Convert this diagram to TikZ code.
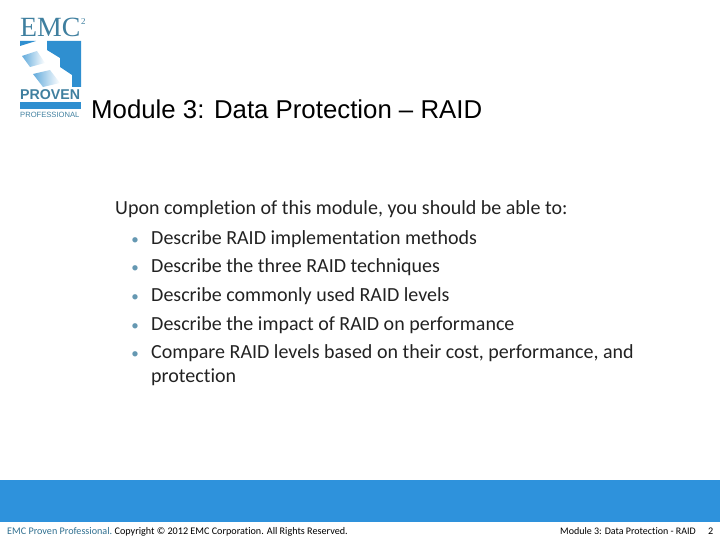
\documentclass[tikz,border=0pt]{standalone}
\usepackage{fontspec}
\setmainfont[Ligatures=NoCommon]{Carlito}
\newfontfamily\arialfont{Liberation Sans}
\newfontfamily\logofont{Liberation Serif}
\usetikzlibrary{positioning}
\definecolor{bandblue}{HTML}{2E92DC}
\definecolor{logoblue}{HTML}{2F8FD0}
\definecolor{logoteal}{HTML}{3F7F9F}
\definecolor{footteal}{HTML}{2F6F8F}
\definecolor{bodyblack}{HTML}{222222}
\tikzset{
    textline/.style={inner sep=0pt,anchor=base west,text=bodyblack,font=\fontsize{20}{24}\selectfont},
    bulletline/.style={inner sep=0pt,anchor=base,text=logoteal!80,font=\fontsize{15}{18}\selectfont},
    footline/.style={inner sep=0pt,anchor=base west,font=\fontsize{10.15}{12}\selectfont}
}
\begin{document}
\begin{tikzpicture}[x=1pt,y=-1pt]
    \useasboundingbox (0,0) rectangle (720,540);

    % logo
    \node[inner sep=0pt,anchor=base west,text=logoteal,font=\logofont\fontsize{27.8}{28}\selectfont] (emc) at (20,37) {EMC};
    \node[inner sep=0pt,anchor=base west,text=logoteal,font=\logofont\fontsize{9}{9}\selectfont] (two) at (81,25) {2};
    \fill[logoblue] (47,41) -- (81,41) -- (81,87) -- (72,87) -- (72,75) -- (60,67) -- (60,58) -- (47,50) -- cycle;
    \fill[logoblue] (20,41) -- (36,41) -- (20,46) -- cycle;
    \shade[left color=logoblue!75,right color=white] (22,56) -- (37,51) -- (45,63) -- (30,67) -- cycle;
    \shade[left color=logoblue!75,right color=white] (33,74) -- (50,70) -- (60,83) -- (43,87) -- cycle;
    \node[inner sep=0pt,anchor=base west,text=logoteal,font=\arialfont\bfseries\fontsize{14.2}{15}\selectfont] (proven) at (20,100) {PROVEN};
    \fill[logoblue] (20,102) rectangle (81,109);
    \node[inner sep=0pt,anchor=base west,text=logoteal,font=\arialfont\fontsize{7.6}{8}\selectfont] (prof) at (20,118) {PROFESSIONAL};

    % title
    \node[inner sep=0pt,anchor=base west,font=\arialfont\fontsize{25.8}{30}\selectfont] (title) at (91,119) {Module 3: Data Protection – RAID};

    % body
    \node[textline] (intro) at (115,214.5) {Upon completion of this module, you should be able to:};
    \node[textline] (b1) at (151,244) {Describe RAID implementation methods};
    \node[textline] (b2) at (151,272) {Describe the three RAID techniques};
    \node[textline] (b3) at (151,301) {Describe commonly used RAID levels};
    \node[textline] (b4) at (151,330) {Describe the impact of RAID on performance};
    \node[textline] (b5) at (151,358) {Compare RAID levels based on their cost, performance, and};
    \node[textline] (b6) at (151,382) {protection};
    \foreach \i/\y in {1/244,2/272,3/301,4/330,5/358} {
        \node[bulletline] (dot\i) at (135,\y) {\textbullet};
    }

    % footer
    \fill[bandblue] (0,480) rectangle (720,522);
    \node[footline,text=footteal] (foota) at (7,534) {EMC Proven Professional.};
    \node[footline,right=2pt of foota.base east,anchor=base west] (footb) {Copyright © 2012 EMC Corporation. All Rights Reserved.};
    \node[footline,font=\fontsize{10}{12}\selectfont] (footc) at (560,534) {Module 3: Data Protection - RAID};
    \node[footline] (footd) at (708,534) {2};
\end{tikzpicture}
\end{document}
